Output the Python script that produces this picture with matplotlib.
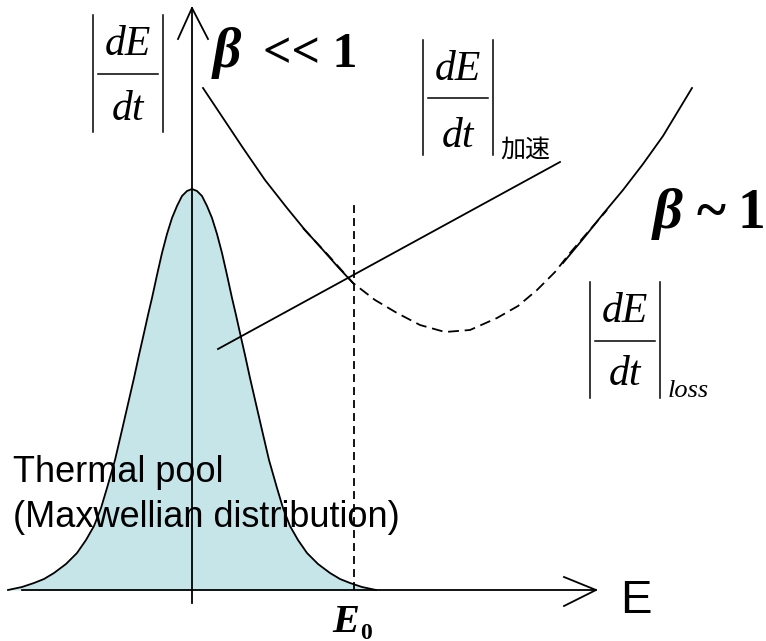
import matplotlib.pyplot as plt

plt.rcParams['font.family'] = ['Liberation Serif', 'DejaVu Serif']

# energy axis origin sits at the peak of the thermal pool; units are arbitrary
# Maxwellian thermal pool (symmetric bump)
pool_x = [-184, -170, -158, -148, -138, -126, -115, -106, -98, -91, -85, -77, -70, -64,
          -58, -53, -48, -44, -40, -35, -30, -25, -20, -15, -10, -5,
          0, 5, 10, 15, 20, 25, 30, 35, 40, 44, 48, 53, 58,
          64, 70, 77, 85, 91, 98, 106, 115, 126, 138, 148, 158, 170, 184]
pool_y = [0, 3, 7, 11, 17, 26, 37, 50, 64, 82, 102, 130, 160, 186,
          212, 235, 257, 275, 292, 315, 337, 356, 372, 384, 394, 399,
          401, 399, 394, 384, 372, 356, 337, 315, 292, 275, 257, 235, 212,
          186, 160, 130, 102, 82, 64, 50, 37, 26, 17, 11, 7, 3, 0]

# |dE/dt| for beta << 1 and beta ~ 1 (solid branches)
slow_x = [11, 31, 51, 73, 95, 113, 131, 146, 161]
slow_y = [502, 472, 442, 410, 382, 360, 340, 323, 307]
fast_x = [371, 391, 411, 431, 451, 471, 500]
fast_y = [327, 351, 376, 400, 426, 454, 502]

# energy loss rate (dashed)
loss_x = [111, 136, 161, 183, 205, 228, 253, 278, 305, 326, 345, 363, 378, 396, 415]
loss_y = [362, 335, 307, 290, 277, 265, 258, 260, 272, 284, 300, 318, 337, 358, 380]

# acceleration rate (straight line)
accel_x = [26, 368]
accel_y = [241, 428]

E0 = 162
E0_top = 390

fig = plt.figure(figsize=(7.66, 6.41), dpi=100)
ax = fig.add_axes([0, 0, 1, 1])
ax.set_xlim(-192, 574)
ax.set_ylim(-51, 590)
ax.axis('off')

lw = 1.3
ax.fill_between(pool_x, pool_y, 0, color='#c5e5e8', lw=0, zorder=1)
ax.plot(pool_x, pool_y, color='k', lw=lw, zorder=2)

# axes with open arrow heads
ax.plot([-170, 404], [0, 0], color='k', lw=lw, zorder=3)
ax.plot([372, 404, 372], [13, 0, -16], color='k', lw=lw, zorder=3)
ax.plot([0, 0], [-13, 582], color='k', lw=lw, zorder=3)
ax.plot([-14, 0, 16], [551, 582, 551], color='k', lw=lw, zorder=3)

ax.plot(slow_x, slow_y, color='k', lw=lw, zorder=3)
ax.plot(fast_x, fast_y, color='k', lw=lw, zorder=3)
ax.plot(loss_x, loss_y, color='k', lw=lw, dashes=(6, 3.2), zorder=3)
ax.plot(accel_x, accel_y, color='k', lw=lw, zorder=3)
ax.plot([E0, E0], [0, E0_top], color='k', lw=lw, dashes=(4.4, 2.8), zorder=3)


def rate_label(xl, xr, ytop, ybot, yfrac, num_base, den_base, size=30):
    for xb in (xl, xr):
        ax.plot([xb, xb], [ybot, ytop], color='k', lw=1.1, zorder=4)
    ax.plot([xl + 5, xr - 5], [yfrac, yfrac], color='k', lw=1.1, zorder=4)
    xc = (xl + xr) / 2
    ax.text(xc, num_base, 'dE', style='italic', size=size, ha='center', va='baseline')
    ax.text(xc, den_base, 'dt', style='italic', size=size, ha='center', va='baseline')


rate_label(-99, -29, 575, 458, 516, 535, 470)
rate_label(231, 301, 550, 435, 492, 510, 443)
rate_label(398, 468, 308, 192, 249, 268, 205)

ax.text(308, 433, '加速', family=['Noto Sans CJK JP'], size=18, va='baseline')
ax.text(476, 193, 'loss', style='italic', size=19, va='baseline')

ax.text(21, 523, 'β', style='italic', weight='bold', size=40, va='baseline')
ax.text(71, 523, '<< 1', weight='bold', size=36, va='baseline')
ax.text(461, 362, 'β', style='italic', weight='bold', size=42, va='baseline')
ax.text(505, 362, '~', weight='bold', size=40, va='baseline')
ax.text(546, 362, '1', weight='bold', size=40, va='baseline')

sans = ['Liberation Sans', 'DejaVu Sans']
ax.text(428, -23, 'E', family=sans, size=34, va='baseline')
ax.text(-179, 108, 'Thermal pool', family=sans, size=26, va='baseline', zorder=5)
ax.text(-179, 63, '(Maxwellian distribution)', family=sans, size=26, va='baseline', zorder=5)

ax.text(140, -42, 'E', style='italic', weight='bold', size=29, va='baseline')
ax.text(168, -49, '0', weight='bold', size=17, va='baseline')

fig.savefig('out.png', dpi=100)
